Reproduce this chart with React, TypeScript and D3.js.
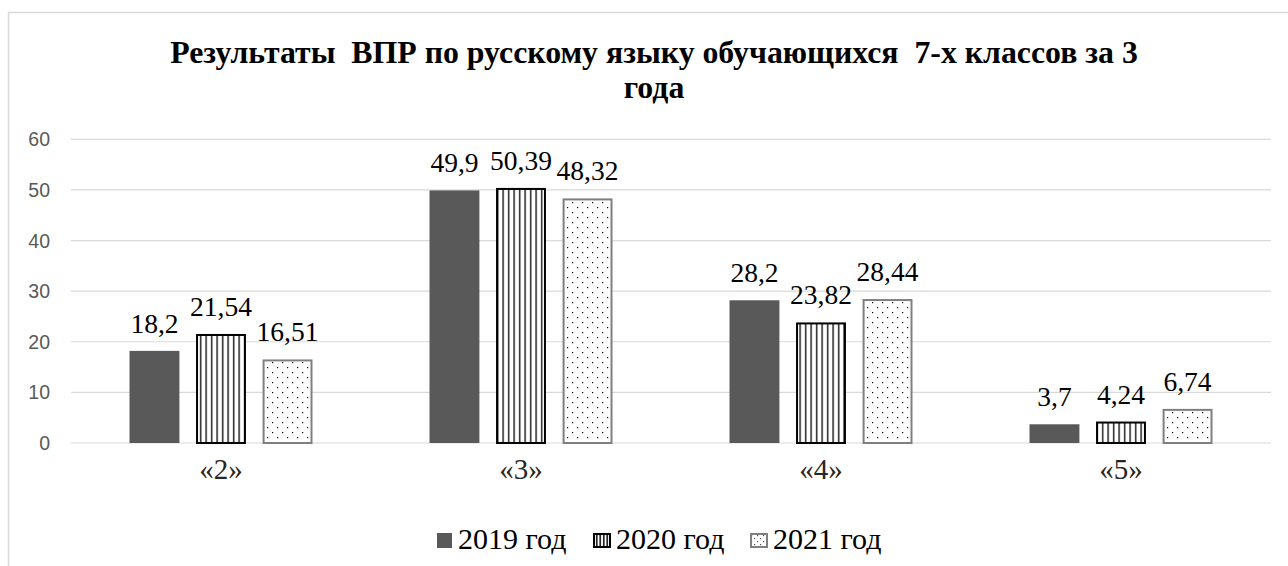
import React from "react";
import * as d3 from "d3";

const categories = ["«2»", "«3»", "«4»", "«5»"];
const seriesNames = ["2019 год", "2020 год", "2021 год"];
const values2019 = [18.2, 49.9, 28.2, 3.7];
const values2020 = [21.54, 50.39, 23.82, 4.24];
const values2021 = [16.51, 48.32, 28.44, 6.74];
const yTicks = [0, 10, 20, 30, 40, 50, 60];

const W = 1288;
const H = 566;
const plotL = 71;
const plotR = 1271;
const plotT = 139.3;
const plotB = 443;

const fmt = (v: number) => String(v).replace(".", ",");

export default function App() {
  const series = [values2019, values2020, values2021];
  const x0 = d3.scaleBand<string>().domain(categories).range([plotL, plotR]).paddingInner(0.39).paddingOuter(0.195);
  const x1 = d3.scaleBand<string>().domain(seriesNames).range([0, x0.bandwidth()]).paddingInner(0.25);
  const y = d3.scaleLinear().domain([0, 60]).range([plotB, plotT]);
  const fills = ["#595959", "url(#stripes)", "url(#dots)"];
  const strokes = ["none", "#000", "#7f7f7f"];
  const serif = "Liberation Serif";
  const sans = "Liberation Sans";
  const legendX = [437, 593, 750];
  const legendTextX = [458, 616, 773];
  return (
    <svg width={W} height={H} style={{ position: "absolute", left: 0, top: 0 }}>
      <defs>
        <pattern id="stripes" width={5.5} height={4} patternUnits="userSpaceOnUse">
          <rect width={5.5} height={4} fill="#fff" />
          <rect x={2} width={1.3} height={4} fill="#000" />
        </pattern>
        <pattern id="dots" width={10} height={10} patternUnits="userSpaceOnUse">
          <rect width={10} height={10} fill="#fff" />
          <rect x={2} y={2} width={1.2} height={1.2} fill="#000" />
          <rect x={7} y={7} width={1.2} height={1.2} fill="#000" />
        </pattern>
        <pattern id="stripesL" width={3.5} height={4} patternUnits="userSpaceOnUse">
          <rect width={3.5} height={4} fill="#fff" />
          <rect x={1} width={1.5} height={4} fill="#000" />
        </pattern>
        <pattern id="dotsL" width={6} height={6} patternUnits="userSpaceOnUse">
          <rect width={6} height={6} fill="#fff" />
          <rect x={1} y={1} width={1.2} height={1.2} fill="#555" />
          <rect x={4} y={4} width={1.2} height={1.2} fill="#555" />
        </pattern>
      </defs>
      <rect x={0} y={0} width={W} height={H} fill="#fff" />
      <path d={`M8.5,${H} V12.5 H${W}`} fill="none" stroke="#d9d9d9" strokeWidth={1.5} />
      <text x={654} y={63} textAnchor="middle" fontFamily={serif} fontWeight="bold" fontSize={31.8} fill="#000" style={{ whiteSpace: "pre" }}>
        {"Результаты  ВПР по русскому языку обучающихся  7-х классов за 3"}
      </text>
      <text x={654} y={98} textAnchor="middle" fontFamily={serif} fontWeight="bold" fontSize={31.8} fill="#000">
        года
      </text>
      {yTicks.map((t) => (
        <g key={t}>
          <line x1={plotL} x2={plotR} y1={y(t)} y2={y(t)} stroke="#d9d9d9" strokeWidth={1.2} />
          <text x={50} y={y(t) + 7} textAnchor="end" fontFamily={sans} fontSize={19.5} fill="#595959">
            {t}
          </text>
        </g>
      ))}
      {categories.map((c, ci) => (
        <g key={c}>
          {series.map((vals, si) => {
            const bx = (x0(c) as number) + (x1(seriesNames[si]) as number);
            const bw = x1.bandwidth();
            const top = y(vals[ci]);
            const sw = si === 0 ? 0 : 2;
            return (
              <g key={si}>
                <rect
                  x={bx + sw / 2}
                  y={top + sw / 2}
                  width={bw - sw}
                  height={plotB - top - sw / 2}
                  fill={fills[si]}
                  stroke={strokes[si]}
                  strokeWidth={sw}
                />
                <text x={bx + bw / 2} y={top - 18} textAnchor="middle" fontFamily={serif} fontSize={27.5} fill="#000">
                  {fmt(vals[ci])}
                </text>
              </g>
            );
          })}
          <text x={(x0(c) as number) + x0.bandwidth() / 2} y={479} textAnchor="middle" fontFamily={serif} fontSize={29} fill="#262626">
            {c}
          </text>
        </g>
      ))}
      {seriesNames.map((s, si) => (
        <g key={s}>
          <rect
            x={legendX[si] + (si === 0 ? 0 : 1)}
            y={533 + (si === 0 ? 0 : 1)}
            width={si === 0 ? 15 : 16}
            height={si === 0 ? 15 : 13}
            fill={si === 0 ? "#595959" : si === 1 ? "url(#stripesL)" : "url(#dotsL)"}
            stroke={strokes[si]}
            strokeWidth={si === 0 ? 0 : 2}
          />
          <text x={legendTextX[si]} y={549} fontFamily={serif} fontSize={30} fill="#000">
            {s}
          </text>
        </g>
      ))}
    </svg>
  );
}
